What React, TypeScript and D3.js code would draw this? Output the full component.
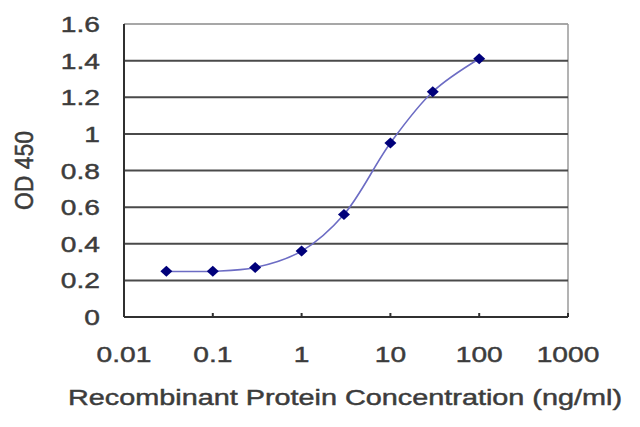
import { useEffect, useRef } from 'react';
import * as d3 from 'd3';

// concentration (ng/ml) and OD 450 readings
const concentrations = [0.03, 0.1, 0.3, 1, 3, 10, 30, 100];
const odValues = [0.25, 0.25, 0.27, 0.36, 0.56, 0.95, 1.23, 1.41];

const xTicks = [0.01, 0.1, 1, 10, 100, 1000];
const yTicks = [0, 0.2, 0.4, 0.6, 0.8, 1, 1.2, 1.4, 1.6];

const xTitle = 'Recombinant Protein Concentration (ng/ml)';
const yTitle = 'OD 450';

export default function App() {
  const svgRef = useRef<SVGSVGElement>(null);
  const width = 640;
  const height = 427;

  useEffect(() => {
    if (!svgRef.current) return;
    const svg = d3.select(svgRef.current);
    svg.selectAll('*').remove();

    const margin = { top: 24, right: 72, bottom: 110, left: 124 };
    const innerWidth = width - margin.left - margin.right;
    const innerHeight = height - margin.top - margin.bottom;
    const font = '"Liberation Sans", Arial, sans-serif';
    const textColor = '#3c3c3c';
    const stretch = 1.28;

    const xScale = d3.scaleLog().domain([0.01, 1000]).range([0, innerWidth]);
    const yScale = d3.scaleLinear().domain([0, 1.6]).range([innerHeight, 0]);

    svg.append('rect').attr('width', width).attr('height', height).attr('fill', '#fff');

    const g = svg.append('g').attr('transform', `translate(${margin.left},${margin.top})`);

    // top and right frame
    g.append('line')
      .attr('x1', 0).attr('x2', innerWidth).attr('y1', 0).attr('y2', 0)
      .attr('stroke', '#8a8a8a').attr('stroke-width', 1.5);
    g.append('line')
      .attr('x1', innerWidth).attr('x2', innerWidth).attr('y1', 0).attr('y2', innerHeight)
      .attr('stroke', '#9a9a9a').attr('stroke-width', 1.5);

    // gridlines
    g.selectAll('.grid')
      .data(yTicks.filter(t => t > 0 && t < 1.6))
      .enter().append('line')
      .attr('x1', 0).attr('x2', innerWidth)
      .attr('y1', d => yScale(d)).attr('y2', d => yScale(d))
      .attr('stroke', '#4a4a4a').attr('stroke-width', 2);

    // axes
    g.append('line')
      .attr('x1', 0).attr('x2', innerWidth).attr('y1', innerHeight).attr('y2', innerHeight)
      .attr('stroke', '#303030').attr('stroke-width', 2);
    g.append('line')
      .attr('x1', 0).attr('x2', 0).attr('y1', 0).attr('y2', innerHeight)
      .attr('stroke', '#303030').attr('stroke-width', 2);

    // x ticks (inside)
    g.selectAll('.xtick')
      .data(xTicks.slice(1))
      .enter().append('line')
      .attr('x1', d => xScale(d)).attr('x2', d => xScale(d))
      .attr('y1', innerHeight).attr('y2', innerHeight - 4)
      .attr('stroke', '#303030').attr('stroke-width', 2);

    const styleText = (sel: d3.Selection<SVGTextElement, any, any, any>, size: number) =>
      sel.style('font-family', font)
        .style('font-size', `${size}px`)
        .style('fill', textColor)
        .style('stroke', textColor)
        .style('stroke-width', '0.45px');

    // y tick labels
    g.selectAll('.ylabel')
      .data(yTicks)
      .enter().append('text')
      .attr('transform', d => `translate(-24,${yScale(d) + 8}) scale(${stretch},1)`)
      .attr('text-anchor', 'end')
      .call(s => styleText(s as any, 22))
      .text(d => d3.format('~g')(d));

    // x tick labels
    g.selectAll('.xlabel')
      .data(xTicks)
      .enter().append('text')
      .attr('transform', d => `translate(${xScale(d)},${innerHeight + 45}) scale(${stretch},1)`)
      .attr('text-anchor', 'middle')
      .call(s => styleText(s as any, 22))
      .text(d => String(d));

    // axis titles
    g.append('text')
      .attr('transform', `translate(${innerWidth / 2 - 1},${innerHeight + 88}) scale(1.31,1)`)
      .attr('text-anchor', 'middle')
      .call(s => styleText(s as any, 22))
      .text(xTitle);

    g.append('text')
      .attr('transform', `translate(${33 - margin.left},${innerHeight / 2}) scale(1.15,1) rotate(-90)`)
      .attr('text-anchor', 'middle')
      .call(s => styleText(s as any, 23))
      .text(yTitle);

    const points: [number, number][] = concentrations.map((c, i) => [xScale(c), yScale(odValues[i])]);

    // smoothed line
    const line = d3.line().curve(d3.curveCatmullRom.alpha(0.5));
    g.append('path')
      .attr('d', line(points))
      .attr('fill', 'none')
      .attr('stroke', '#6c6cc4')
      .attr('stroke-width', 1.6);

    // diamond markers
    g.selectAll('.marker')
      .data(points)
      .enter().append('path')
      .attr('d', d => `M${d[0]},${d[1] - 5.5}L${d[0] + 6},${d[1]}L${d[0]},${d[1] + 5.5}L${d[0] - 6},${d[1]}Z`)
      .attr('fill', '#00007a');
  }, []);

  return (
    <svg
      ref={svgRef}
      width={width}
      height={height}
      style={{ position: 'absolute', left: 0, top: 0, display: 'block' }}
    />
  );
}
